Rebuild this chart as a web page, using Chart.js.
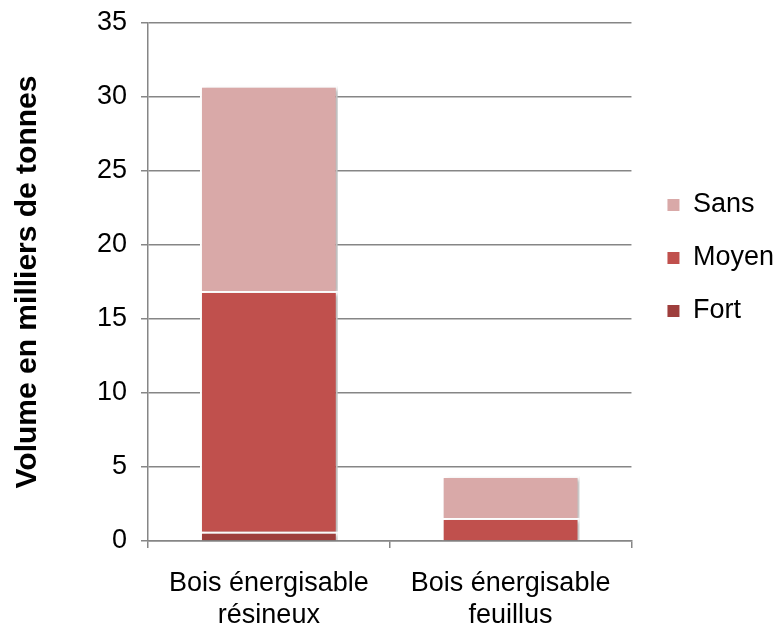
<!DOCTYPE html>
<html>
<head>
<meta charset="utf-8">
<script src="https://cdn.jsdelivr.net/npm/chart.js@4"></script>
<style>
  html, body { margin: 0; padding: 0; background: #fff; }
  #wrap { width: 784px; height: 625px; }
</style>
</head>
<body>
<div id="wrap"><canvas id="chart" width="784" height="625"></canvas></div>
<script>
const categories = [
    ["Bois énergisable", "résineux"],
    ["Bois énergisable", "feuillus"],
];
const fort = [0.63, 0];
const moyen = [16.27, 1.56];
const sans = [13.86, 2.84];
const yTicks = [0, 5, 10, 15, 20, 25, 30, 35];

const ctx = document.querySelector("#chart").getContext("2d");

// soft shadow behind the bars, like the office export
const barShadow = {
    id: "barShadow",
    beforeDatasetsDraw(chart) {
        const c = chart.ctx;
        c.save();
        c.shadowColor = "rgba(0, 0, 0, 0.28)";
        c.shadowBlur = 4;
        c.shadowOffsetX = 3;
        c.shadowOffsetY = 2;
    },
    afterDatasetsDraw(chart) {
        chart.ctx.restore();
    },
};

// nudge the legend to where it sits in the original
const legendNudge = {
    id: "legendNudge",
    afterLayout(chart) {
        const lg = chart.legend;
        lg.left += 10;
        lg.right += 10;
        lg.top -= 66;
        lg.bottom -= 66;
    },
};

const common = {
    borderColor: "#ffffff",
    borderWidth: 2,
    barPercentage: 0.57,
    categoryPercentage: 1,
    stack: "s",
};

new Chart(ctx, {
    type: "bar",
    data: {
        labels: categories,
        datasets: [
            { label: "Fort", data: fort, backgroundColor: "#9e3e3c", ...common },
            { label: "Moyen", data: moyen, backgroundColor: "#c0504d", ...common },
            { label: "Sans", data: sans, backgroundColor: "#d9a9a8", ...common },
        ],
    },
    options: {
        responsive: false,
        animation: false,
        layout: { padding: { top: 23, right: 10, bottom: 0, left: 0 } },
        scales: {
            x: {
                stacked: true,
                grid: {
                    offset: true,
                    drawOnChartArea: false,
                    drawTicks: true,
                    tickLength: 7,
                    color: "#868686",
                    lineWidth: 1.5,
                },
                border: { color: "#868686", width: 1.5 },
                ticks: {
                    color: "#000",
                    padding: 19,
                    font: { family: "'Liberation Sans', Arial", size: 27 },
                },
                afterFit(scale) { scale.height = 84; },
            },
            y: {
                stacked: true,
                min: 0,
                max: 35,
                afterBuildTicks(scale) {
                    scale.ticks = yTicks.map(v => ({ value: v }));
                },
                grid: {
                    color: "#868686",
                    lineWidth: 1.5,
                    tickLength: 7,
                },
                border: { color: "#868686", width: 1.5 },
                ticks: {
                    color: "#000",
                    padding: 14,
                    font: { family: "'Liberation Sans', Arial", size: 27 },
                },
                title: {
                    display: true,
                    text: "Volume en milliers de tonnes",
                    color: "#000",
                    padding: { top: 10, bottom: 0 },
                    font: { family: "'Liberation Sans', Arial", size: 30, weight: "bold" },
                },
                afterFit(scale) {
                    scale.width = 148;
                    scale.paddingTop = 0;
                    scale.paddingBottom = 0;
                },
            },
        },
        plugins: {
            legend: {
                position: "right",
                reverse: true,
                labels: {
                    boxWidth: 12,
                    boxHeight: 12,
                    padding: 26,
                    color: "#000",
                    font: { family: "'Liberation Sans', Arial", size: 27 },
                    generateLabels(chart) {
                        return Chart.defaults.plugins.legend.labels.generateLabels(chart)
                            .map(l => ({ ...l, lineWidth: 0, strokeStyle: "rgba(0,0,0,0)" }));
                    },
                },
            },
            tooltip: { enabled: false },
        },
    },
    plugins: [barShadow, legendNudge],
});
</script>
</body>
</html>
